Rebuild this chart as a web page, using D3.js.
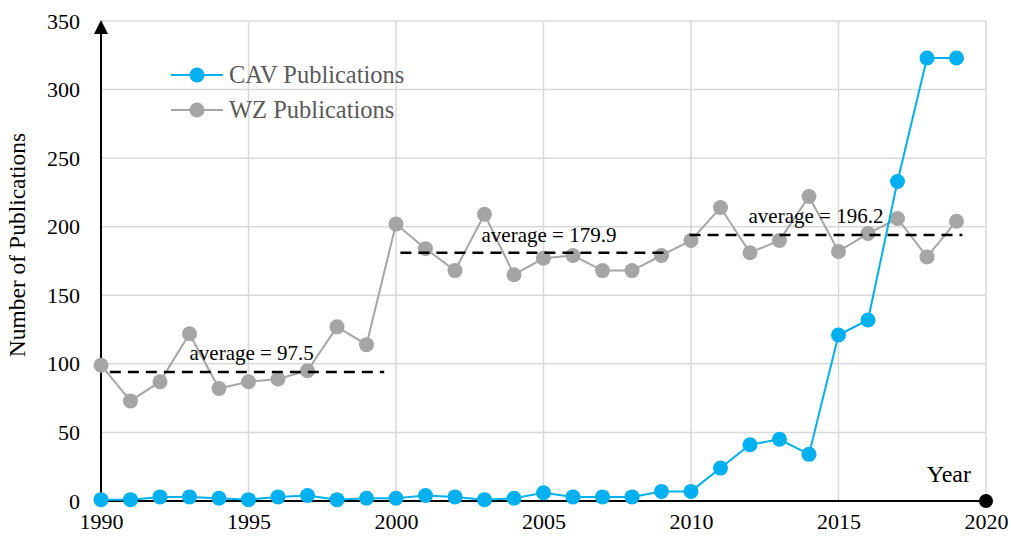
<!DOCTYPE html>
<html>
<head>
<meta charset="utf-8">
<script src="https://cdn.jsdelivr.net/npm/d3@7"></script>
<style>
    body { margin: 0; background: #fff; }
</style>
</head>
<body>
<div id="chart"></div>
<script>
// data
var years = d3.range(1990, 2020);
var cavValues = [1, 1, 3, 3, 2, 1, 3, 4, 1, 2,
                 2, 4, 3, 1, 2, 6, 3, 3, 3, 7,
                 7, 24, 41, 45, 34, 121, 132, 233, 323, 323];
var wzValues = [99, 73, 87, 122, 82, 87, 89, 95, 127, 114,
                202, 184, 168, 209, 165, 177, 179, 168, 168, 179,
                190, 214, 181, 190, 222, 182, 195, 206, 178, 204];
var xTicks = [1990, 1995, 2000, 2005, 2010, 2015, 2020];
var yTicks = [0, 50, 100, 150, 200, 250, 300, 350];
// average segments: start year, end year, drawn level, label
var avgStart = [1990.3, 2000.15, 2009.95];
var avgEnd = [1999.6, 2009.3, 2019.2];
var avgLevel = [94, 181, 194];
var avgLabels = ["average = 97.5", "average = 179.9", "average = 196.2"];
var avgLabelX = [1993.0, 2002.9, 2011.95];
var avgLabelY = [103, 189, 203];
var seriesNames = ["CAV Publications", "WZ Publications"];
var seriesColors = ["#00B0F0", "#A5A5A5"];

var FONT = "'Liberation Serif', 'Times New Roman', Times, serif";
var width = 1011, height = 538;
var margin = {left: 101, right: 25, top: 21, bottom: 37};

var svg = d3.select("#chart").append("svg")
    .attr("width", width)
    .attr("height", height)
    .attr("font-family", FONT);

var x = d3.scaleLinear().domain([1990, 2020]).range([margin.left, width - margin.right]);
var y = d3.scaleLinear().domain([0, 350]).range([height - margin.bottom, margin.top]);

//网格线
var grid = svg.append("g").attr("class", "grid");
grid.selectAll("line.h").data(yTicks.slice(1)).enter().append("line")
    .attr("x1", x(1990)).attr("x2", x(2020))
    .attr("y1", function (d) { return y(d); })
    .attr("y2", function (d) { return y(d); })
    .attr("stroke", "#d9d9d9").attr("stroke-width", 1.5);
grid.selectAll("line.v").data(xTicks.slice(1)).enter().append("line")
    .attr("x1", function (d) { return x(d); })
    .attr("x2", function (d) { return x(d); })
    .attr("y1", y(0)).attr("y2", y(350))
    .attr("stroke", "#d9d9d9").attr("stroke-width", 1.5);

// axes
var xAxis = d3.axisBottom(x).tickValues(xTicks).tickFormat(d3.format("d")).tickSize(0).tickPadding(12);
var yAxis = d3.axisLeft(y).tickValues(yTicks).tickSize(0).tickPadding(21);

var gx = svg.append("g").attr("transform", "translate(0," + y(0) + ")").call(xAxis)
    .attr("font-family", FONT).attr("font-size", 22);
gx.select(".domain").remove();
gx.selectAll("text").attr("fill", "#000");

var gy = svg.append("g").attr("transform", "translate(" + x(1990) + ",0)").call(yAxis)
    .attr("font-family", FONT).attr("font-size", 22);
gy.select(".domain").remove();
gy.selectAll("text").attr("fill", "#000");

svg.append("line")
    .attr("x1", x(1990)).attr("x2", x(2020))
    .attr("y1", y(0)).attr("y2", y(0))
    .attr("stroke", "#000").attr("stroke-width", 2);
svg.append("line")
    .attr("x1", x(1990)).attr("x2", x(1990))
    .attr("y1", y(0)).attr("y2", y(350) + 12)
    .attr("stroke", "#000").attr("stroke-width", 2);
// arrow head on y axis
svg.append("path")
    .attr("d", "M" + x(1990) + "," + (y(350) - 1) + " l-7,14 l14,0 z")
    .attr("fill", "#000");
// dot on x axis end
svg.append("circle")
    .attr("cx", x(2020)).attr("cy", y(0)).attr("r", 7)
    .attr("fill", "#000");

// series
var series = [cavValues, wzValues];
var line = d3.line()
    .x(function (d, i) { return x(years[i]); })
    .y(function (d) { return y(d); });

// WZ drawn first, CAV on top
[1, 0].forEach(function (s) {
    var g = svg.append("g");
    g.append("path")
        .attr("d", line(series[s]))
        .attr("fill", "none")
        .attr("stroke", seriesColors[s])
        .attr("stroke-width", 2);
    g.selectAll("circle").data(series[s]).enter().append("circle")
        .attr("cx", function (d, i) { return x(years[i]); })
        .attr("cy", function (d) { return y(d); })
        .attr("r", 7.5)
        .attr("fill", seriesColors[s]);
});

// average lines
for (var i = 0; i < avgLevel.length; i++) {
    svg.append("line")
        .attr("x1", x(avgStart[i])).attr("x2", x(avgEnd[i]))
        .attr("y1", y(avgLevel[i])).attr("y2", y(avgLevel[i]))
        .attr("stroke", "#000").attr("stroke-width", 2.5)
        .attr("stroke-dasharray", "11,7");
    svg.append("text")
        .attr("x", x(avgLabelX[i])).attr("y", y(avgLabelY[i]))
        .attr("font-size", 21)
        .text(avgLabels[i]);
}

// legend
var legend = svg.append("g");
seriesNames.forEach(function (name, i) {
    var ly = 75 + i * 35;
    legend.append("line")
        .attr("x1", 171).attr("x2", 223)
        .attr("y1", ly).attr("y2", ly)
        .attr("stroke", seriesColors[i]).attr("stroke-width", 2);
    legend.append("circle")
        .attr("cx", 197).attr("cy", ly).attr("r", 7.5)
        .attr("fill", seriesColors[i]);
    legend.append("text")
        .attr("x", 229).attr("y", ly + 8)
        .attr("font-size", 24.5)
        .attr("fill", "#595959")
        .text(name);
});

// axis titles
svg.append("text")
    .attr("transform", "translate(25,245) rotate(-90)")
    .attr("text-anchor", "middle")
    .attr("font-size", 23.5)
    .text("Number of Publications");
svg.append("text")
    .attr("x", 971).attr("y", 482)
    .attr("text-anchor", "end")
    .attr("font-size", 24)
    .text("Year");
</script>
</body>
</html>
